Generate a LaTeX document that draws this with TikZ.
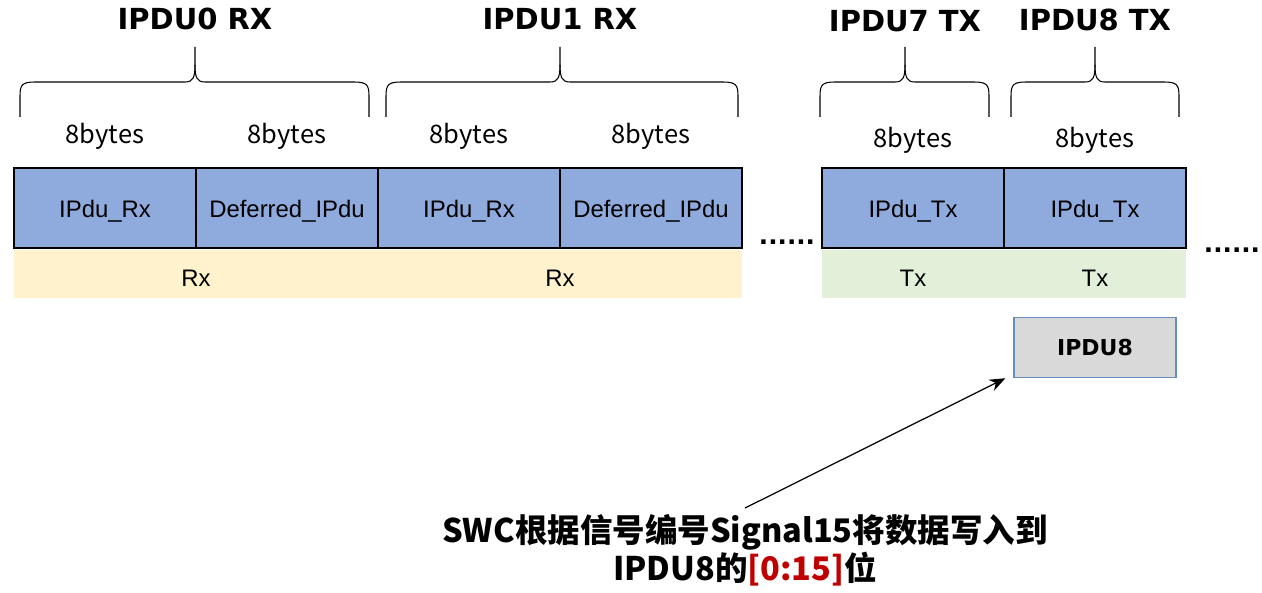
\documentclass[tikz,border=0pt]{standalone}
\usepackage{fontspec}
\setmainfont{Liberation Sans}
\newfontfamily\titlefont{DejaVu Sans}
\newfontfamily\cjk{Noto Sans CJK SC}
\usetikzlibrary{arrows.meta,positioning}
\definecolor{cellblue}{RGB}{143,170,220}
\definecolor{rxyellow}{RGB}{255,242,204}
\definecolor{txgreen}{RGB}{226,240,217}
\definecolor{boxgray}{RGB}{217,217,217}
\definecolor{boxline}{RGB}{100,140,190}
\definecolor{bitred}{RGB}{192,0,0}

\begin{document}
\begin{tikzpicture}[node distance=0pt,>={Stealth[length=9pt,width=7pt]},
    cell/.style={draw,fill=cellblue,line width=0.7pt,minimum width=3.64cm,minimum height=1.6cm,
      inner sep=0pt,outer sep=0pt,text height=11pt,text depth=0pt,
      font=\fontsize{13.6}{16}\selectfont},
    bar/.style={minimum width=3.64cm,minimum height=0.96cm,inner sep=0pt,outer sep=0pt,
      text height=14.4pt,text depth=0pt,font=\fontsize{13.6}{16}\selectfont},
    bytes/.style={on grid,font=\cjk\fontsize{14.5}{17}\selectfont},
    title/.style={font=\titlefont\bfseries\fontsize{16.5}{20}\selectfont},
    dots/.style={inner sep=0pt,font=\titlefont\bfseries\fontsize{14}{16}\selectfont},
    pdubox/.style={draw=boxline,fill=boxgray,line width=0.7pt,minimum width=3.24cm,
      minimum height=1.2cm,font=\titlefont\bfseries\fontsize{12.5}{15}\selectfont},
    note/.style={align=center,font=\cjk\bfseries\fontsize{18.5}{21.5}\selectfont}]
  \useasboundingbox (0,0) rectangle (25.24,-11.84);

  % rx frames
  \node[cell] (r0) at (2.10,-4.16) {IPdu\_Rx};
  \node[cell] (d0) [right=of r0] {Deferred\_IPdu};
  \node[cell] (r1) [right=of d0] {IPdu\_Rx};
  \node[cell] (d1) [right=of r1] {Deferred\_IPdu};
  % tx frames
  \node[cell] (t7) at (18.26,-4.16) {IPdu\_Tx};
  \node[cell] (t8) [right=of t7] {IPdu\_Tx};

  \node[bar,fill=rxyellow,minimum width=7.28cm] (rx0) [below=0.04cm of r0.south east] {Rx};
  \node[bar,fill=rxyellow,minimum width=7.28cm] (rx1) [below=0.04cm of r1.south east] {Rx};
  \node[bar,fill=txgreen] (tx7) [below=0.04cm of t7] {Tx};
  \node[bar,fill=txgreen] (tx8) [below=0.04cm of t8] {Tx};

  \node[dots] (dots1) at (15.74,-4.84) {......};
  \node[dots] (dots2) at (24.64,-5.00) {......};

  \node[bytes] (b0) [above=1.44cm of r0] {8bytes};
  \node[bytes] (b1) [above=1.44cm of d0] {8bytes};
  \node[bytes] (b2) [above=1.44cm of r1] {8bytes};
  \node[bytes] (b3) [above=1.44cm of d1] {8bytes};
  \node[bytes] (b7) [above=1.36cm of t7] {8bytes};
  \node[bytes] (b8) [above=1.36cm of t8] {8bytes};

  \node[title] (h0) at (3.90,-0.38) {IPDU0 RX};
  \node[title] (h1) at (11.20,-0.38) {IPDU1 RX};
  \node[title] (h7) at (18.10,-0.43) {IPDU7 TX};
  \node[title] (h8) at (21.90,-0.40) {IPDU8 TX};

  % braces
  \foreach \l/\m/\r in {0.40/3.90/7.38, 7.72/11.20/14.76, 16.40/18.10/19.78, 20.22/21.90/23.58}{
    \draw[line width=0.6pt] (\l,-2.34) -- (\l,-1.92)
      .. controls (\l,-1.70) and (\l+0.04,-1.64) .. (\l+0.3,-1.64) -- (\m-0.2,-1.64)
      .. controls (\m-0.04,-1.64) and (\m,-1.55) .. (\m,-1.30) -- (\m,-0.94);
    \draw[line width=0.6pt] (\r,-2.34) -- (\r,-1.92)
      .. controls (\r,-1.70) and (\r-0.04,-1.64) .. (\r-0.3,-1.64) -- (\m+0.2,-1.64)
      .. controls (\m+0.04,-1.64) and (\m,-1.55) .. (\m,-1.30);
  }

  \node[pdubox] (p8) [below=0.38cm of tx8] {IPDU8};

  \node[note] (swc) at (14.90,-11.00)
    {SWC根据信号编号Signal15将数据写入到\\IPDU8的\textcolor{bitred}{[0:15]}位};

  \draw[->,line width=0.7pt] (swc.north) -- ([xshift=-0.16cm]p8.south west);
\end{tikzpicture}
\end{document}
